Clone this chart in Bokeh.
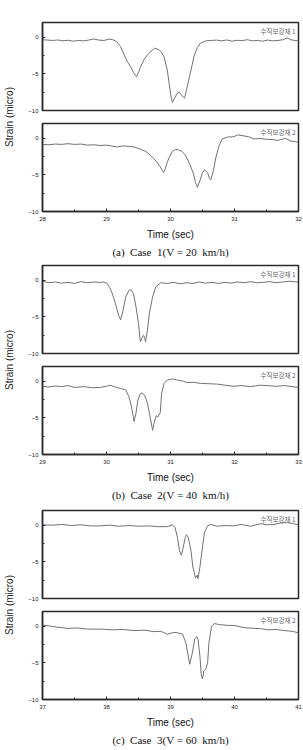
import math
from bokeh.plotting import figure
from bokeh.layouts import column, row
from bokeh.models import Range1d, FixedTicker, Label, Title
from bokeh.embed import file_html
from bokeh.resources import INLINE

# ---------------- data ----------------
# Case 1 (V = 20 km/h), gauge 1
c1g1_t = [28.00, 28.08, 28.16, 28.24, 28.32, 28.40, 28.48, 28.56, 28.64, 28.72,
          28.80, 28.88, 28.96, 29.04, 29.10, 29.16, 29.22, 29.27, 29.33, 29.38,
          29.42, 29.45, 29.47, 29.50, 29.53, 29.59, 29.66, 29.75, 29.82, 29.86,
          29.90, 29.95, 29.98, 30.01, 30.03, 30.07, 30.11, 30.14, 30.18, 30.22,
          30.26, 30.32, 30.37, 30.42, 30.47, 30.55, 30.64, 30.72, 30.80, 30.88,
          30.96, 31.04, 31.12, 31.20, 31.28, 31.36, 31.44, 31.52, 31.60, 31.68,
          31.76, 31.82, 31.88, 31.94, 32.00]
c1g1_s = [-0.35, -0.40, -0.45, -0.38, -0.50, -0.42, -0.55, -0.45, -0.50, -0.40,
          -0.25, -0.40, -0.45, -0.25, -0.35, -0.60, -1.30, -2.30, -3.40, -4.10,
          -4.80, -5.20, -5.40, -4.80, -4.10, -3.00, -2.20, -1.50, -1.70, -2.10,
          -2.70, -4.50, -6.40, -8.20, -8.90, -8.20, -7.60, -7.50, -8.00, -8.30,
          -6.80, -4.50, -2.50, -1.40, -0.80, -0.50, -0.45, -0.40, -0.50, -0.38,
          -0.55, -0.42, -0.48, -0.35, -0.50, -0.45, -0.55, -0.40, -0.50, -0.45,
          -0.35, -0.10, -0.35, -0.45, -0.50]
# Case 1, gauge 2
c1g2_t = [28.00, 28.10, 28.20, 28.30, 28.40, 28.50, 28.60, 28.70, 28.80, 28.90,
          29.00, 29.10, 29.17, 29.25, 29.32, 29.43, 29.53, 29.60, 29.66, 29.74,
          29.79, 29.84, 29.87, 29.89, 29.92, 29.95, 29.98, 30.03, 30.08, 30.13,
          30.18, 30.23, 30.29, 30.33, 30.36, 30.39, 30.42, 30.46, 30.50, 30.53,
          30.58, 30.61, 30.63, 30.67, 30.71, 30.76, 30.81, 30.89, 30.99, 31.05,
          31.15, 31.22, 31.30, 31.40, 31.51, 31.60, 31.67, 31.74, 31.80, 31.88,
          31.94, 32.00]
c1g2_s = [-0.85, -0.90, -0.80, -0.85, -0.75, -0.85, -0.80, -0.95, -0.90, -1.00,
          -0.95, -1.10, -1.20, -1.05, -1.10, -1.20, -1.50, -1.75, -2.10, -2.80,
          -3.30, -3.90, -4.40, -4.70, -4.10, -3.30, -2.60, -1.80, -1.55, -1.60,
          -1.80, -2.30, -3.30, -4.20, -4.90, -6.00, -6.70, -5.80, -4.70, -4.30,
          -4.70, -5.50, -5.70, -4.40, -2.60, -1.00, -0.10, 0.15, 0.20, 0.45,
          0.30, 0.20, -0.10, -0.05, -0.15, -0.20, -0.30, -0.15, -0.05, -0.40,
          -0.45, -0.60]
# Case 2 (V = 40 km/h), gauge 1
c2g1_t = [29.00, 29.10, 29.20, 29.30, 29.40, 29.50, 29.60, 29.70, 29.80, 29.90,
          29.96, 30.01, 30.05, 30.09, 30.14, 30.19, 30.22, 30.26, 30.30, 30.35,
          30.38, 30.42, 30.46, 30.50, 30.52, 30.53, 30.56, 30.58, 30.60, 30.61,
          30.64, 30.67, 30.72, 30.77, 30.85, 30.95, 31.05, 31.15, 31.25, 31.35,
          31.45, 31.55, 31.65, 31.75, 31.85, 31.95, 32.05, 32.15, 32.25, 32.35,
          32.45, 32.55, 32.65, 32.75, 32.85, 33.00]
c2g1_s = [-0.15, -0.35, -0.25, -0.40, -0.30, -0.45, -0.20, -0.35, -0.25, -0.30,
          -0.25, -0.45, -1.00, -1.80, -3.20, -4.80, -5.40, -4.10, -2.30, -1.40,
          -1.30, -1.80, -3.60, -5.90, -7.70, -8.40, -7.80, -7.50, -8.00, -8.40,
          -6.80, -4.50, -2.30, -0.90, -0.35, -0.45, -0.30, -0.50, -0.35, -0.45,
          -0.25, -0.40, -0.30, -0.45, -0.30, -0.40, -0.25, -0.35, -0.20, -0.35,
          -0.30, -0.20, -0.35, -0.25, -0.15, -0.25]
# Case 2, gauge 2
c2g2_t = [29.00, 29.10, 29.20, 29.30, 29.40, 29.50, 29.65, 29.78, 29.90, 30.00,
          30.06, 30.14, 30.22, 30.30, 30.35, 30.39, 30.42, 30.43, 30.46, 30.49,
          30.53, 30.56, 30.60, 30.64, 30.67, 30.71, 30.72, 30.74, 30.77, 30.78,
          30.80, 30.84, 30.86, 30.90, 30.95, 31.03, 31.11, 31.20, 31.26, 31.35,
          31.47, 31.60, 31.73, 31.85, 31.99, 32.10, 32.25, 32.40, 32.51, 32.65,
          32.78, 32.90, 33.00]
c2g2_s = [-0.70, -0.80, -0.65, -0.75, -0.60, -0.85, -0.75, -0.90, -0.85, -0.70,
          -0.55, -0.80, -1.00, -1.20, -2.10, -3.50, -4.90, -5.50, -4.40, -2.60,
          -1.70, -1.60, -2.00, -3.00, -4.40, -6.20, -6.70, -5.80, -4.90, -4.70,
          -4.90, -4.30, -1.70, -0.30, 0.15, 0.30, 0.15, 0.00, -0.20, -0.15,
          -0.30, -0.35, -0.40, -0.55, -0.70, -0.60, -0.75, -0.55, -0.60, -0.70,
          -0.60, -0.75, -0.85]
# Case 3 (V = 60 km/h), gauge 1
c3g1_t = [37.00, 37.15, 37.30, 37.45, 37.60, 37.75, 37.90, 38.05, 38.20, 38.35,
          38.50, 38.65, 38.80, 38.95, 39.03, 39.07, 39.11, 39.14, 39.17, 39.20,
          39.23, 39.25, 39.28, 39.32, 39.35, 39.38, 39.39, 39.42, 39.43, 39.46,
          39.50, 39.53, 39.58, 39.63, 39.73, 39.85, 39.99, 40.10, 40.25, 40.41,
          40.52, 40.62, 40.72, 40.83, 40.92, 41.00]
c3g1_s = [0.05, 0.00, 0.10, -0.05, 0.05, -0.10, -0.10, 0.00, -0.15, -0.05,
          -0.15, -0.10, -0.20, -0.20, 0.05, -0.30, -1.70, -3.50, -4.10, -3.00,
          -1.70, -1.30, -1.70, -3.50, -5.70, -6.80, -7.20, -6.80, -7.30, -5.70,
          -3.00, -1.00, -0.10, 0.10, -0.15, -0.05, -0.10, 0.10, -0.15, 0.20,
          0.05, 0.10, 0.30, 0.35, 0.20, 0.05]
# Case 3, gauge 2
c3g2_t = [37.00, 37.10, 37.20, 37.39, 37.55, 37.70, 37.91, 38.10, 38.25, 38.43,
          38.60, 38.74, 38.85, 38.95, 39.05, 39.11, 39.19, 39.24, 39.27, 39.30,
          39.34, 39.38, 39.41, 39.43, 39.46, 39.48, 39.50, 39.52, 39.55, 39.58,
          39.60, 39.64, 39.68, 39.78, 39.90, 39.99, 40.15, 40.31, 40.42, 40.52,
          40.65, 40.78, 40.90, 41.00]
c3g2_s = [0.15, 0.05, -0.10, -0.30, -0.25, -0.40, -0.40, -0.50, -0.45, -0.60,
          -0.55, -0.75, -0.70, -1.10, -0.85, -0.90, -1.10, -2.30, -3.70, -5.20,
          -3.70, -1.70, -1.40, -1.80, -4.10, -6.60, -7.20, -6.10, -5.90, -5.00,
          -2.30, -0.10, 0.35, 0.20, 0.10, 0.10, -0.20, -0.30, -0.35, -0.50,
          -0.45, -0.60, -0.70, -0.90]

x_ranges = [(28, 32), (29, 33), (37, 41)]
y_range = (-10, 2)
y_major = [-10, -5, 0]
y_minor = [-7.5, -2.5]
legend_labels = ["수직보강재 1", "수직보강재 2"]
NB = "\u00a0"
captions = [f"(a){NB}{NB}Case{NB}{NB}1(V{NB}={NB}20{NB}{NB}km/h)",
            f"(b){NB}{NB}Case{NB}{NB}2(V{NB}={NB}40{NB}{NB}km/h)",
            f"(c){NB}{NB}Case{NB}{NB}3(V{NB}={NB}60{NB}{NB}km/h)"]
x_title = "Time (sec)"
y_title = "Strain (micro)"
series = [[(c1g1_t, c1g1_s), (c1g2_t, c1g2_s)],
          [(c2g1_t, c2g1_s), (c2g2_t, c2g2_s)],
          [(c3g1_t, c3g1_s), (c3g2_t, c3g2_s)]]

# ---------------- layout constants ----------------
LABEL_W = 18
FRAME_W = 256
FRAME_H = 88
TOP_BORDERS = [22, 6, 8]
GAP_TOP_BOTTOM = 6
BOTTOM_TOP_BORDER = 7
BOTTOM_AREA = 48
LINE_COLOR = "#727272"
FRAME_COLOR = "#2a2a2a"
SANS = "Liberation Sans"


def make_panel(t, s, xr, legend, is_bottom, border_top, caption=None):
    x0, x1 = xr
    p = figure(frame_width=FRAME_W, frame_height=FRAME_H,
               x_range=Range1d(x0, x1), y_range=Range1d(*y_range),
               output_backend="svg", toolbar_location=None,
               min_border_left=42 - LABEL_W, min_border_right=5,
               min_border_top=border_top,
               min_border_bottom=BOTTOM_AREA if is_bottom else GAP_TOP_BOTTOM)
    p.background_fill_color = "white"
    p.border_fill_color = "white"
    p.outline_line_color = FRAME_COLOR
    p.outline_line_width = 1.5
    p.xgrid.visible = False
    p.ygrid.visible = False

    majors = list(range(x0, x1 + 1))
    minors = [m + 0.5 for m in range(x0, x1)]
    p.xaxis.ticker = FixedTicker(ticks=majors, minor_ticks=minors)
    p.yaxis.ticker = FixedTicker(ticks=y_major, minor_ticks=y_minor)
    for ax in (p.xaxis[0], p.yaxis[0]):
        ax.axis_line_color = FRAME_COLOR
        ax.axis_line_width = 1.5
        ax.major_tick_in = 3
        ax.major_tick_out = 0
        ax.minor_tick_in = 2
        ax.minor_tick_out = 0
        ax.major_tick_line_color = FRAME_COLOR
        ax.minor_tick_line_color = FRAME_COLOR
        ax.major_label_text_font = SANS
        ax.major_label_text_font_size = "6px"
        ax.major_label_text_color = "#222222"
    p.yaxis.major_label_standoff = 4
    if is_bottom:
        p.xaxis.major_label_standoff = 5
        p.xaxis.axis_label = x_title
        p.xaxis.axis_label_standoff = 5
        p.xaxis.axis_label_text_font = SANS
        p.xaxis.axis_label_text_font_size = "10px"
        p.xaxis.axis_label_text_font_style = "normal"
        p.xaxis.axis_label_text_color = "#111111"
        p.add_layout(Title(text=caption, align="center", text_font="Liberation Serif",
                           text_font_size="11px", text_font_style="normal",
                           text_color="#111111", standoff=3), "below")
    else:
        p.xaxis.visible = False

    p.line(t, s, line_color=LINE_COLOR, line_width=1)
    p.add_layout(Label(x=x1, y=y_range[1], text=legend, x_offset=-3, y_offset=-3,
                       text_align="right", text_baseline="top",
                       text_font="Noto Sans CJK KR", text_font_size="6.5px",
                       text_color="#666666"))
    return p


blocks = []
for i in range(3):
    (ta, sa), (tb, sb) = series[i]
    top = make_panel(ta, sa, x_ranges[i], legend_labels[0], False, TOP_BORDERS[i])
    bot = make_panel(tb, sb, x_ranges[i], legend_labels[1], True, BOTTOM_TOP_BORDER,
                     captions[i])
    top_h = TOP_BORDERS[i] + FRAME_H + GAP_TOP_BOTTOM
    bot_h = BOTTOM_TOP_BORDER + FRAME_H + BOTTOM_AREA
    H = top_h + bot_h
    lab = figure(width=LABEL_W, height=H, x_range=Range1d(0, LABEL_W),
                 y_range=Range1d(H, 0), output_backend="svg", toolbar_location=None,
                 min_border=0, outline_line_color=None)
    lab.axis.visible = False
    lab.grid.visible = False
    lab.add_layout(Label(x=LABEL_W / 2, y=top_h + 0.5, text=y_title, angle=math.pi / 2,
                         text_align="center", text_baseline="middle",
                         text_font=SANS, text_font_size="10px", text_color="#222222"))
    blocks.append(row(lab, column(top, bot)))

layout = column(*blocks)
open("out.html", "w").write(file_html(layout, INLINE))
